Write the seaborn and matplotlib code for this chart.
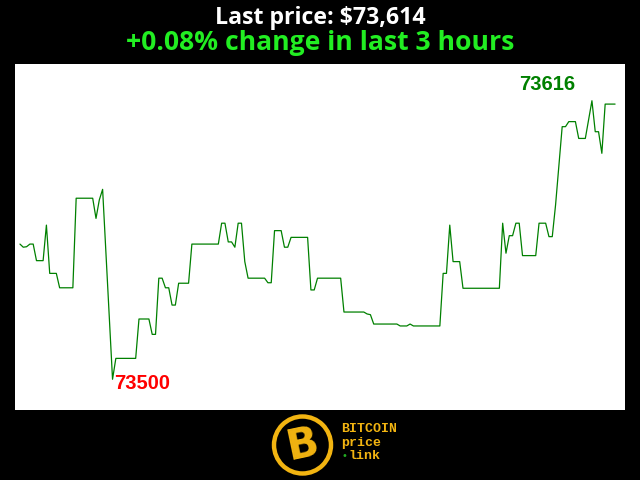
#!/usr/bin/env python3

import matplotlib
matplotlib.use('Agg')
import matplotlib.pyplot as plt
from matplotlib.patches import Circle
import seaborn as sns
import pandas as pd

# minutes since start of the 3 hour window, and BTC price at that minute
minutes = [0, 1, 2, 3, 4, 5, 7, 8, 9, 11, 12, 16, 17, 22, 23, 24, 25, 28, 29, 35,
           36, 39, 40, 41, 42, 43, 44, 45, 46, 47, 48, 51, 52, 60, 61, 62, 63, 64, 65, 66,
           67, 68, 69, 74, 75, 76, 77, 79, 80, 81, 82, 87, 88, 89, 90, 97, 98, 104, 105, 106,
           107, 114, 115, 117, 118, 119, 127, 128, 129, 130, 131, 133, 134, 145, 146, 147, 148, 149, 150, 151,
           152, 156, 157, 159, 160, 161, 162, 164, 165, 166, 168, 169, 171, 173, 174, 175, 176, 177, 180]
prices = [73556.3, 73555.0, 73555.2, 73556.3, 73556.3, 73549.4, 73549.4, 73564.2, 73544.1, 73544.1,
          73538.1, 73538.1, 73575.4, 73575.4, 73567.0, 73574.7, 73579.1, 73500.0, 73508.7, 73508.7,
          73525.1, 73525.1, 73518.7, 73518.7, 73542.1, 73542.1, 73538.1, 73538.1, 73530.9, 73530.9,
          73540.0, 73540.0, 73556.3, 73556.3, 73565.0, 73565.0, 73557.2, 73557.2, 73555.0, 73565.0,
          73565.0, 73549.0, 73542.1, 73542.1, 73540.2, 73540.2, 73561.9, 73561.9, 73555.0, 73555.0,
          73559.1, 73559.1, 73537.2, 73537.2, 73542.1, 73542.1, 73528.0, 73528.0, 73527.2, 73526.9,
          73523.0, 73523.0, 73522.2, 73522.2, 73523.0, 73522.2, 73522.2, 73544.1, 73544.1, 73564.2,
          73549.0, 73549.0, 73537.9, 73537.9, 73565.0, 73552.5, 73559.8, 73559.8, 73565.0, 73565.0,
          73551.5, 73551.5, 73565.0, 73565.0, 73559.4, 73559.4, 73572.6, 73605.2, 73605.2, 73607.3,
          73607.3, 73600.3, 73600.3, 73616.0, 73603.1, 73603.1, 73594.1, 73614.6, 73614.6]

last_price = 73614
pct_change = 0.08

df = pd.DataFrame({'minute': minutes, 'price': prices})

sns.set_style('white')
plt.rcParams['font.family'] = ['Open Sans', 'DejaVu Sans']

fig = plt.figure(figsize=(6.4, 4.8), dpi=100, facecolor='black')
ax = fig.add_axes([15 / 640, 70 / 480, 610 / 640, 346 / 480])
ax.set_facecolor('white')

sns.lineplot(data=df, x='minute', y='price', ax=ax, color='#008000', linewidth=0.9)

ax.set_xlim(-1.5, 183.0)
ax.set_ylim(73487.2, 73631.3)
ax.set_xticks([])
ax.set_yticks([])
ax.set_xlabel('')
ax.set_ylabel('')
for s in ax.spines.values():
    s.set_visible(False)

# min / max labels
i_min = df['price'].idxmin()
i_max = df['price'].idxmax()
ax.annotate(f"{int(round(df['price'][i_min]))}", (df['minute'][i_min], df['price'][i_min]),
            xytext=(21, -3), textcoords='offset points', ha='center', va='center',
            color='red', fontsize=14.5, fontweight='bold', family='Liberation Sans')
ax.annotate(f"{int(round(df['price'][i_max]))}", (df['minute'][i_max], df['price'][i_max]),
            xytext=(-32, 12), textcoords='offset points', ha='center', va='center',
            color='#008000', fontsize=14.5, fontweight='bold', family='Liberation Sans')

# titles
fig.text(0.5, 1 - 24 / 480, f'Last price: ${last_price:,}', ha='center', va='baseline',
         color='white', fontsize=16.7, fontweight='bold')
fig.text(0.5, 1 - 50.5 / 480, f'+{pct_change:.2f}% change in last 3 hours', ha='center', va='baseline',
         color='#22ee22', fontsize=19.1, fontweight='bold')

# logo
gold = '#f2b411'
cx, cy, r = 302.5 / 640, 1 - 445 / 480, 30.5
ring = Circle((302.5, 480 - 445), r - 2, transform=None, facecolor='black',
              edgecolor=gold, linewidth=3.2)
fig.patches.append(ring)
fig.text(cx, cy, 'B', ha='center', va='center', color=gold, fontsize=30,
         fontweight='bold', rotation=12, family='DejaVu Sans')
fig.text(341 / 640, 1 - 432 / 480, 'BITCOIN', ha='left', va='baseline', color=gold,
         fontsize=9.5, fontweight='bold', family='Liberation Mono')
fig.text(341 / 640, 1 - 446 / 480, 'price', ha='left', va='baseline', color=gold,
         fontsize=9.5, fontweight='bold', family='Liberation Mono')
fig.text(349 / 640, 1 - 459 / 480, 'link', ha='left', va='baseline', color=gold,
         fontsize=9.5, fontweight='bold', family='Liberation Mono')
fig.text(344 / 640, 1 - 456 / 480, '•', ha='center', va='center', color='#22aa22',
         fontsize=7, family='DejaVu Sans')

fig.savefig('out.png', dpi=100, facecolor='black')
